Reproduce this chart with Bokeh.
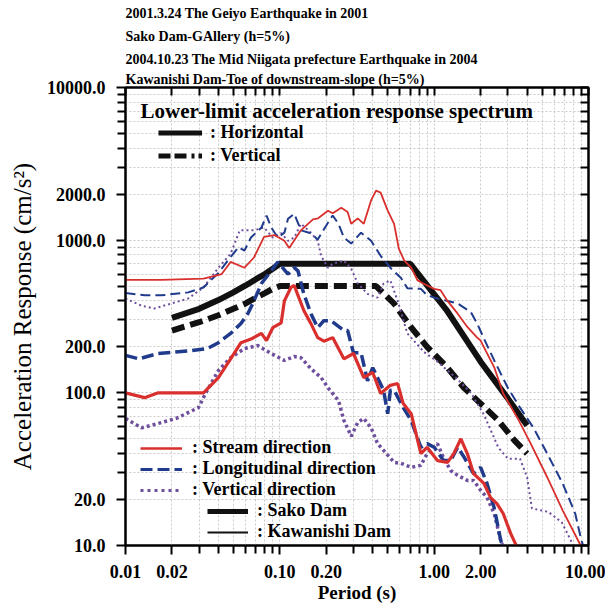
import numpy as np
from bokeh.plotting import figure
from bokeh.models import (LogAxis, FixedTicker, PrintfTickFormatter, Legend,
                          LegendItem, Title, Range1d, Label)
from bokeh.embed import file_html
from bokeh.resources import INLINE

# ---------------- data ----------------
title_lines = [
    "2001.3.24 The Geiyo Earthquake in 2001",
    "Sako Dam-GAllery (h=5%)",
    "2004.10.23 The Mid Niigata prefecture Earthquake in 2004",
    "Kawanishi Dam-Toe of downstream-slope (h=5%)",
]

x_ticks = [0.01, 0.02, 0.1, 0.2, 1, 2, 10]
x_minor = [0.03, 0.04, 0.05, 0.06, 0.07, 0.08, 0.09,
           0.3, 0.4, 0.5, 0.6, 0.7, 0.8, 0.9,
           3, 4, 5, 6, 7, 8, 9]
y_ticks = [10, 20, 100, 200, 1000, 2000, 10000]
y_minor = [30, 40, 50, 60, 70, 80, 90,
           300, 400, 500, 600, 700, 800, 900,
           3000, 4000, 5000, 6000, 7000, 8000, 9000]

# lower-limit acceleration response spectrum
ll_h_T = [0.02, 0.03, 0.04, 0.05, 0.06, 0.07, 0.08, 0.09, 0.1, 0.7, 1.2, 2.0, 3.0, 4.0]
ll_h_A = [310, 355, 405, 455, 505, 555, 600, 650, 700, 700, 350, 160, 92, 61]
ll_v_T = [0.02, 0.03, 0.04, 0.05, 0.06, 0.07, 0.08, 0.09, 0.1, 0.42, 0.55, 0.71, 0.9,
          1.22, 1.56, 2.0, 2.6, 3.3, 4.0]
ll_v_A = [256, 290, 322, 355, 385, 420, 450, 480, 500, 500, 384, 268, 200,
          146, 108, 85, 66, 49, 40]

# Kawanishi Dam (thin lines)
kw_st_T = [0.01, 0.017, 0.032, 0.042, 0.048, 0.059, 0.068, 0.079, 0.092, 0.107, 0.115,
           0.137, 0.164, 0.177, 0.205, 0.22, 0.25, 0.275, 0.29, 0.32, 0.35, 0.39, 0.42,
           0.45, 0.50, 0.55, 0.59, 0.64, 0.71, 0.78, 0.85, 1.0, 1.1, 1.22, 1.42, 1.64,
           1.9, 2.0, 2.45, 2.8, 3.45, 4.2, 5.4, 6.8, 8.9]
kw_st_A = [550, 550, 560, 600, 720, 660, 770, 1050, 1080, 990, 890,
           1160, 1370, 1390, 1560, 1500, 1630, 1530, 1280, 1390, 1280, 1820, 2110,
           2050, 1560, 1280, 880, 735, 660, 545, 520, 480, 470, 400, 330, 270,
           230, 220, 147, 99, 69, 47, 28, 17, 10]

kw_lg_T = [0.01, 0.0133, 0.017, 0.0255, 0.032, 0.040, 0.046, 0.054, 0.059, 0.065, 0.076,
           0.082, 0.088, 0.097, 0.107, 0.113, 0.124, 0.137, 0.159, 0.176, 0.205, 0.22,
           0.24, 0.26, 0.29, 0.336, 0.39, 0.45, 0.52, 0.61, 0.67, 0.82, 0.9, 1.05, 1.22,
           1.42, 1.73, 1.9, 2.1, 2.45, 3.0, 3.6, 4.4, 5.4, 6.8, 8.2, 8.9, 9.3]
kw_lg_A = [450, 435, 435, 455, 490, 610, 735, 900, 855, 1040, 1210,
           1450, 1210, 1040, 1120, 1380, 1490, 1160, 1110, 1010, 1300, 1450,
           1280, 1040, 950, 1120, 990, 790, 660, 565, 485, 480, 435, 415, 400,
           385, 338, 284, 227, 163, 108, 80, 59, 40, 25.5, 16.2, 11.3, 9.7]

kw_vt_T = [0.01, 0.0127, 0.0154, 0.0207, 0.0255, 0.032, 0.040, 0.048, 0.055, 0.068, 0.079,
           0.090, 0.102, 0.113, 0.124, 0.137, 0.159, 0.176, 0.185, 0.205, 0.22, 0.26,
           0.29, 0.32, 0.37, 0.43, 0.47, 0.52, 0.58, 0.67, 0.86, 1.05, 1.38, 1.73, 2.1,
           2.6, 3.0, 3.6, 4.0, 4.3, 5.5, 6.7, 7.3, 8.0]
kw_vt_A = [415, 372, 357, 390, 415, 490, 660, 815, 1160, 1160, 1210,
           1040, 1110, 990, 1040, 1280, 1120, 990, 790, 660, 700, 735,
           650, 520, 445, 420, 520, 545, 400, 245, 185, 160, 126, 100, 72,
           44, 37, 37, 28, 17.5, 16.6, 14.2, 12, 9.9]

# Sako Dam (thick lines)
sk_st_T = [0.01, 0.0133, 0.0163, 0.032, 0.040, 0.048, 0.056, 0.065, 0.076, 0.082, 0.090,
           0.102, 0.107, 0.118, 0.124, 0.13, 0.143, 0.159, 0.176, 0.193, 0.22, 0.26,
           0.30, 0.35, 0.40, 0.45, 0.52, 0.58, 0.63, 0.71, 0.82, 0.90, 1.05, 1.22,
           1.34, 1.49, 1.64, 1.80, 2.1, 2.32, 2.55, 2.8, 3.13, 3.45]
sk_st_A = [100, 93, 100, 100, 126, 167, 213, 225, 245, 220, 267,
           287, 400, 490, 505, 445, 346, 284, 230, 218, 230, 167,
           181, 126, 136, 99, 112, 115, 85, 73, 40, 44, 36, 35,
           40, 50, 40, 29.6, 25.5, 20.6, 18.8, 16.2, 12, 9.7]

sk_lg_T = [0.01, 0.0122, 0.0163, 0.0267, 0.034, 0.040, 0.048, 0.056, 0.062, 0.068, 0.076,
           0.088, 0.097, 0.113, 0.124, 0.131, 0.143, 0.159, 0.176, 0.193, 0.215, 0.26,
           0.275, 0.30, 0.336, 0.37, 0.40, 0.47, 0.50, 0.52, 0.55, 0.63, 0.71, 0.82,
           0.9, 1.0, 1.15, 1.28, 1.42, 1.56, 1.80, 2.0, 2.2, 2.45, 2.70, 2.8]
sk_lg_A = [176, 167, 181, 189, 195, 213, 245, 285, 330, 400, 520,
           630, 720, 600, 660, 630, 445, 330, 267, 297, 297, 256,
           256, 183, 183, 120, 146, 104, 73, 104, 104, 80, 66, 44,
           46.5, 44, 36, 36, 44, 38, 29.6, 32.5, 25.5, 17.6, 10.8, 9.7]

sk_vt_T = [0.01, 0.0127, 0.0163, 0.0213, 0.0297, 0.033, 0.040, 0.048, 0.059, 0.072, 0.088,
           0.107, 0.124, 0.137, 0.159, 0.185, 0.205, 0.24, 0.26, 0.29, 0.32, 0.35,
           0.39, 0.43, 0.47, 0.55, 0.61, 0.71, 0.82, 0.9, 1.05, 1.15, 1.28, 1.42,
           1.64, 1.80, 2.0, 2.2, 2.45, 2.70, 2.8]
sk_vt_A = [68, 59, 63, 68, 80, 99, 140, 170, 195, 204, 181,
           163, 173, 170, 144, 126, 108, 89, 66, 52, 64, 68,
           59, 46.5, 42, 35, 34.5, 32.5, 33.5, 40, 46.5, 37.5, 31, 28.8,
           26.7, 26.7, 23, 20.6, 16.2, 10.8, 9.7]

# ---------------- styles ----------------
RED = "#d9302e"
BLUE = "#213b8c"
PURPLE = "#6e4f9e"
BLACK = "#111111"
FONT = "Liberation Serif"

p = figure(width=605, height=606, x_axis_type="log", y_axis_type="log",
           x_range=Range1d(0.01, 10), y_range=Range1d(10, 10000),
           output_backend="svg", toolbar_location=None, title=None,
           min_border_left=125, min_border_right=17, min_border_top=87,
           min_border_bottom=61)
p.background_fill_color = "white"
p.border_fill_color = "white"
p.outline_line_color = "black"
p.outline_line_width = 2

xt = FixedTicker(ticks=x_ticks, minor_ticks=x_minor)
yt = FixedTicker(ticks=y_ticks, minor_ticks=y_minor)

xa = p.xaxis[0]
ya = p.yaxis[0]
xa.ticker = xt
ya.ticker = yt
xa.formatter = PrintfTickFormatter(format="%.2f")
ya.formatter = PrintfTickFormatter(format="%.1f")
for ax in (xa, ya):
    ax.axis_line_width = 2
    ax.major_tick_line_width = 2
    ax.minor_tick_line_width = 2
    ax.major_tick_in = 0
    ax.major_tick_out = 9
    ax.minor_tick_in = 0
    ax.minor_tick_out = 8
    ax.major_label_text_font = FONT
    ax.major_label_text_font_style = "bold"
    ax.major_label_text_font_size = "18px"
    ax.major_label_text_color = "black"
    ax.axis_label_text_font = FONT
    ax.axis_label_text_color = "black"
xa.major_label_standoff = 10
ya.major_label_standoff = 11
xa.axis_label = "Period (s)"
xa.axis_label_text_font_style = "bold"
xa.axis_label_text_font_size = "19px"
xa.axis_label_standoff = 1
ya.axis_label = "Acceleration Response (cm/s²)"
ya.axis_label_text_font_style = "normal"
ya.axis_label_text_font_size = "25px"
ya.axis_label_standoff = 8

p.xgrid.ticker = xt
p.ygrid.ticker = yt
for g in (p.xgrid, p.ygrid):
    g.grid_line_color = "#bdbdbd"
    g.grid_line_width = 0.8
    g.grid_line_dash = "2 2"
    g.minor_grid_line_color = "#bdbdbd"
    g.minor_grid_line_width = 0.8
    g.minor_grid_line_dash = "2 2"

# top and right axes: inward ticks only, no labels
top = LogAxis(ticker=FixedTicker(ticks=[], minor_ticks=x_ticks + x_minor),
              axis_line_width=2, major_tick_in=0, major_tick_out=0,
              minor_tick_in=8, minor_tick_out=0, minor_tick_line_width=2,
              major_label_standoff=0)
right = LogAxis(ticker=FixedTicker(ticks=[], minor_ticks=y_ticks + y_minor),
                axis_line_width=2, major_tick_in=0, major_tick_out=0,
                minor_tick_in=8, minor_tick_out=0, minor_tick_line_width=2,
                major_label_standoff=0)
p.add_layout(top, "above")
p.add_layout(right, "right")

# title lines (innermost first)
standoffs = [6, 6, 6, 1]
for i in (3, 2, 1, 0):
    p.add_layout(Title(text=title_lines[i], align="left", text_font=FONT,
                       text_font_style="bold", text_font_size="14px",
                       text_color="black", standoff=standoffs[i]), "above")

# ---------------- curves ----------------
r_llh = p.line(ll_h_T, ll_h_A, line_color=BLACK, line_width=6)
r_llv = p.line(ll_v_T, ll_v_A, line_color=BLACK, line_width=6, line_dash="13 6")

p.line(kw_vt_T, kw_vt_A, line_color=PURPLE, line_width=2, line_dash="2 3")
p.line(kw_lg_T, kw_lg_A, line_color=BLUE, line_width=2, line_dash="10 5")
p.line(kw_st_T, kw_st_A, line_color=RED, line_width=1.8)

p.line(sk_vt_T, sk_vt_A, line_color=PURPLE, line_width=3.5, line_dash="3 3")
p.line(sk_lg_T, sk_lg_A, line_color=BLUE, line_width=3.5, line_dash="12 5")
p.line(sk_st_T, sk_st_A, line_color=RED, line_width=3.2)

# legend sample renderers (nothing drawn in the plot area)
nan = np.array([np.nan])
s_st = p.line(nan, nan, line_color=RED, line_width=2.4)
s_lg = p.line(nan, nan, line_color=BLUE, line_width=3, line_dash="12 5")
s_vt = p.line(nan, nan, line_color=PURPLE, line_width=3, line_dash="3 4")
s_sk = p.line(nan, nan, line_color=BLACK, line_width=5)
s_kw = p.line(nan, nan, line_color=BLACK, line_width=2)
s_h = p.line(nan, nan, line_color=BLACK, line_width=5)
s_v = p.line(nan, nan, line_color=BLACK, line_width=5, line_dash="12 4 12 5 3 4")


def make_legend(items, loc, gw, standoff, fs, h):
    lg = Legend(items=items, location=loc, glyph_width=gw, glyph_height=h,
                label_height=h, label_standoff=standoff, spacing=0, padding=0,
                margin=0, border_line_alpha=0, background_fill_alpha=0,
                label_text_font=FONT, label_text_font_style="bold",
                label_text_font_size=fs, label_text_color="black")
    p.add_layout(lg)
    return lg


make_legend([LegendItem(label=": Horizontal", renderers=[s_h]),
             LegendItem(label=": Vertical", renderers=[s_v])],
            (33, 378), 44, 8, "18px", 23)
make_legend([LegendItem(label=": Stream direction", renderers=[s_st]),
             LegendItem(label=": Longitudinal direction", renderers=[s_lg]),
             LegendItem(label=": Vertical direction", renderers=[s_vt])],
            (15, 45), 42, 10, "18px", 20)
make_legend([LegendItem(label=": Sako Dam", renderers=[s_sk]),
             LegendItem(label=": Kawanishi Dam", renderers=[s_kw])],
            (82, 3), 41, 9, "18px", 20)

p.add_layout(Label(x=0.0125, y=7060, text="Lower-limit acceleration response spectrum",
                   text_font=FONT, text_font_style="bold", text_font_size="21px",
                   text_baseline="middle", text_color="black"))

open("out.html", "w").write(file_html(p, INLINE))
